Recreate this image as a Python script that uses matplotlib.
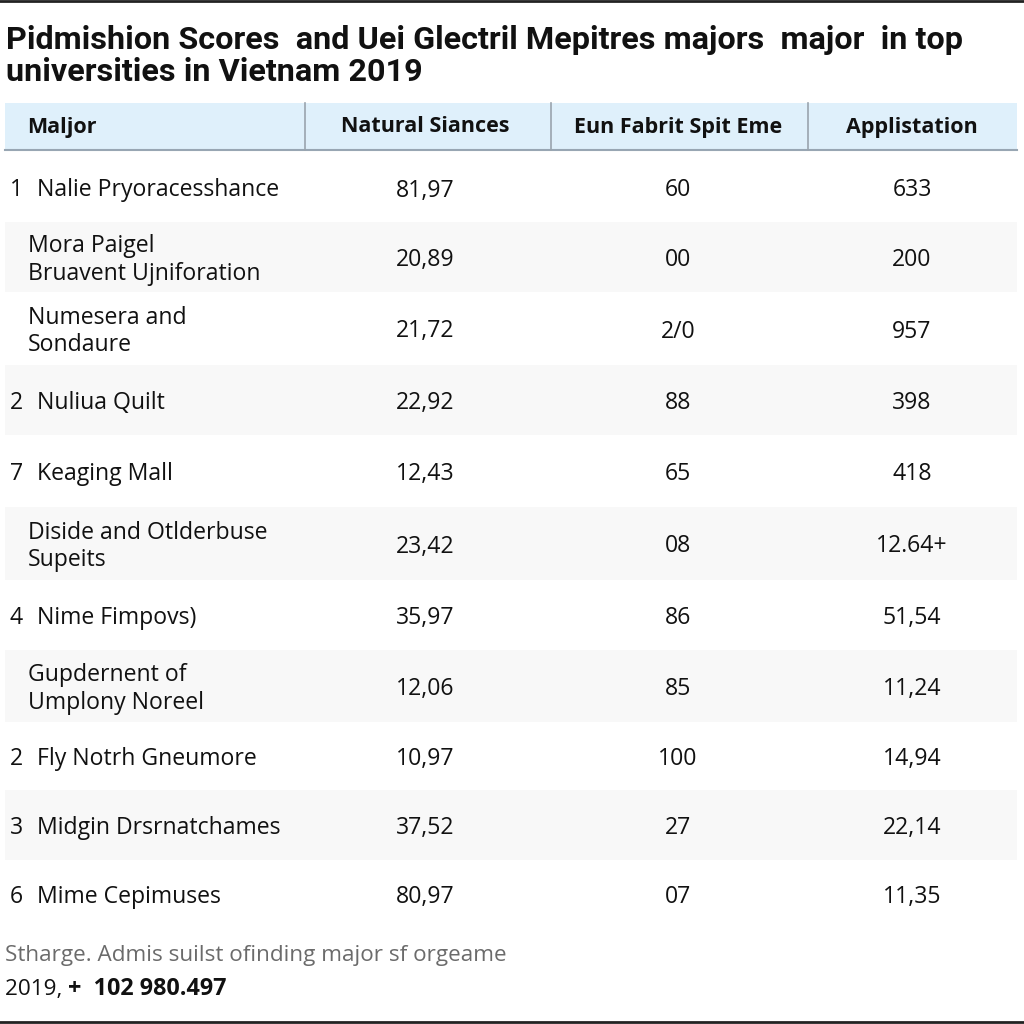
import matplotlib
matplotlib.use("Agg")
import matplotlib.pyplot as plt
from matplotlib.patches import Rectangle

title = "Pidmishion Scores  and Uei Glectril Mepitres majors  major  in top\nuniversities in Vietnam 2019"
headers = ["Maljor", "Natural Siances", "Eun Fabrit Spit Eme", "Applistation"]
ranks = ["1", "", "", "2", "7", "", "4", "", "2", "3", "6"]
majors = ["Nalie Pryoracesshance", "Mora Paigel\nBruavent Ujniforation", "Numesera and\nSondaure",
          "Nuliua Quilt", "Keaging Mall", "Diside and Otlderbuse\nSupeits", "Nime Fimpovs)",
          "Gupdernent of\nUmplony Noreel", "Fly Notrh Gneumore", "Midgin Drsrnatchames", "Mime Cepimuses"]
natural_sciences = ["81,97", "20,89", "21,72", "22,92", "12,43", "23,42", "35,97", "12,06", "10,97", "37,52", "80,97"]
fabrit = ["60", "00", "2/0", "88", "65", "08", "86", "85", "100", "27", "07"]
applications = ["633", "200", "957", "398", "418", "12.64+", "51,54", "11,24", "14,94", "22,14", "11,35"]
source_note = "Stharge. Admis suilst ofinding major sf orgeame"
footer_year = "2019, "
footer_total = "+  102 980.497"

plt.rcParams['font.family'] = ['Open Sans', 'DejaVu Sans']
fig = plt.figure(figsize=(10.24, 10.24), dpi=100)
ax = fig.add_axes([0, 0, 1, 1])
ax.set_xlim(0, 1024)
ax.set_ylim(1024, 0)
ax.axis("off")

# frame lines top and bottom
ax.plot([0, 1024], [1, 1], color="#222222", lw=2)
ax.plot([0, 1024], [1022, 1022], color="#222222", lw=2)

ax.text(6, 25, title, fontsize=23.3, fontweight="bold", family=["Roboto", "DejaVu Sans"],
        va="top", ha="left", color="#111111", linespacing=1.08)

# header band
ax.add_patch(Rectangle((5, 103), 1012, 47, facecolor="#dff0fb", edgecolor="none"))
ax.plot([5, 1017], [150, 150], color="#98a6b3", lw=1.5)
for xs in [305, 551, 808]:
    ax.plot([xs, xs], [103, 150], color="#9aa4ad", lw=1.2)
col_centers = [None, 425, 678, 912]
ax.text(27, 127, headers[0], fontsize=15.5, fontweight="bold", va="center", ha="left", color="#111111")
for i in range(1, 4):
    ax.text(col_centers[i], 127, headers[i], fontsize=15.5, fontweight="bold", va="center", ha="center", color="#111111")

bounds = [153, 222, 292, 365, 435, 507, 580, 650, 722, 790, 860, 928]
fs = 16.6
for i in range(len(majors)):
    y0, y1 = bounds[i], bounds[i + 1]
    yc = (y0 + y1) / 2 + 3
    if i % 2 == 1:
        ax.add_patch(Rectangle((5, y0), 1012, y1 - y0, facecolor="#f8f8f8", edgecolor="none"))
    if ranks[i]:
        ax.text(10, yc, ranks[i], fontsize=fs, va="center", ha="left", color="#111111")
        ax.text(37, yc, majors[i], fontsize=fs, va="center", ha="left", color="#111111")
    else:
        ax.text(28, yc, majors[i], fontsize=fs, va="center", ha="left", color="#111111", linespacing=1.2)
    ax.text(col_centers[1], yc, natural_sciences[i], fontsize=fs, va="center", ha="center", color="#111111")
    ax.text(col_centers[2], yc, fabrit[i], fontsize=fs, va="center", ha="center", color="#111111")
    ax.text(col_centers[3], yc, applications[i], fontsize=fs, va="center", ha="center", color="#111111")

ax.text(5, 955, source_note, fontsize=16.2, va="center", ha="left", color="#6b6b6b")
t = ax.text(5, 989, footer_year, fontsize=16.2, va="center", ha="left", color="#111111")
fig.canvas.draw()
bb = t.get_window_extent()
ax.text(5 + bb.width, 989, footer_total, fontsize=16.8, fontweight="bold", va="center", ha="left", color="#111111")

fig.savefig("out.png", dpi=100, facecolor="white")
